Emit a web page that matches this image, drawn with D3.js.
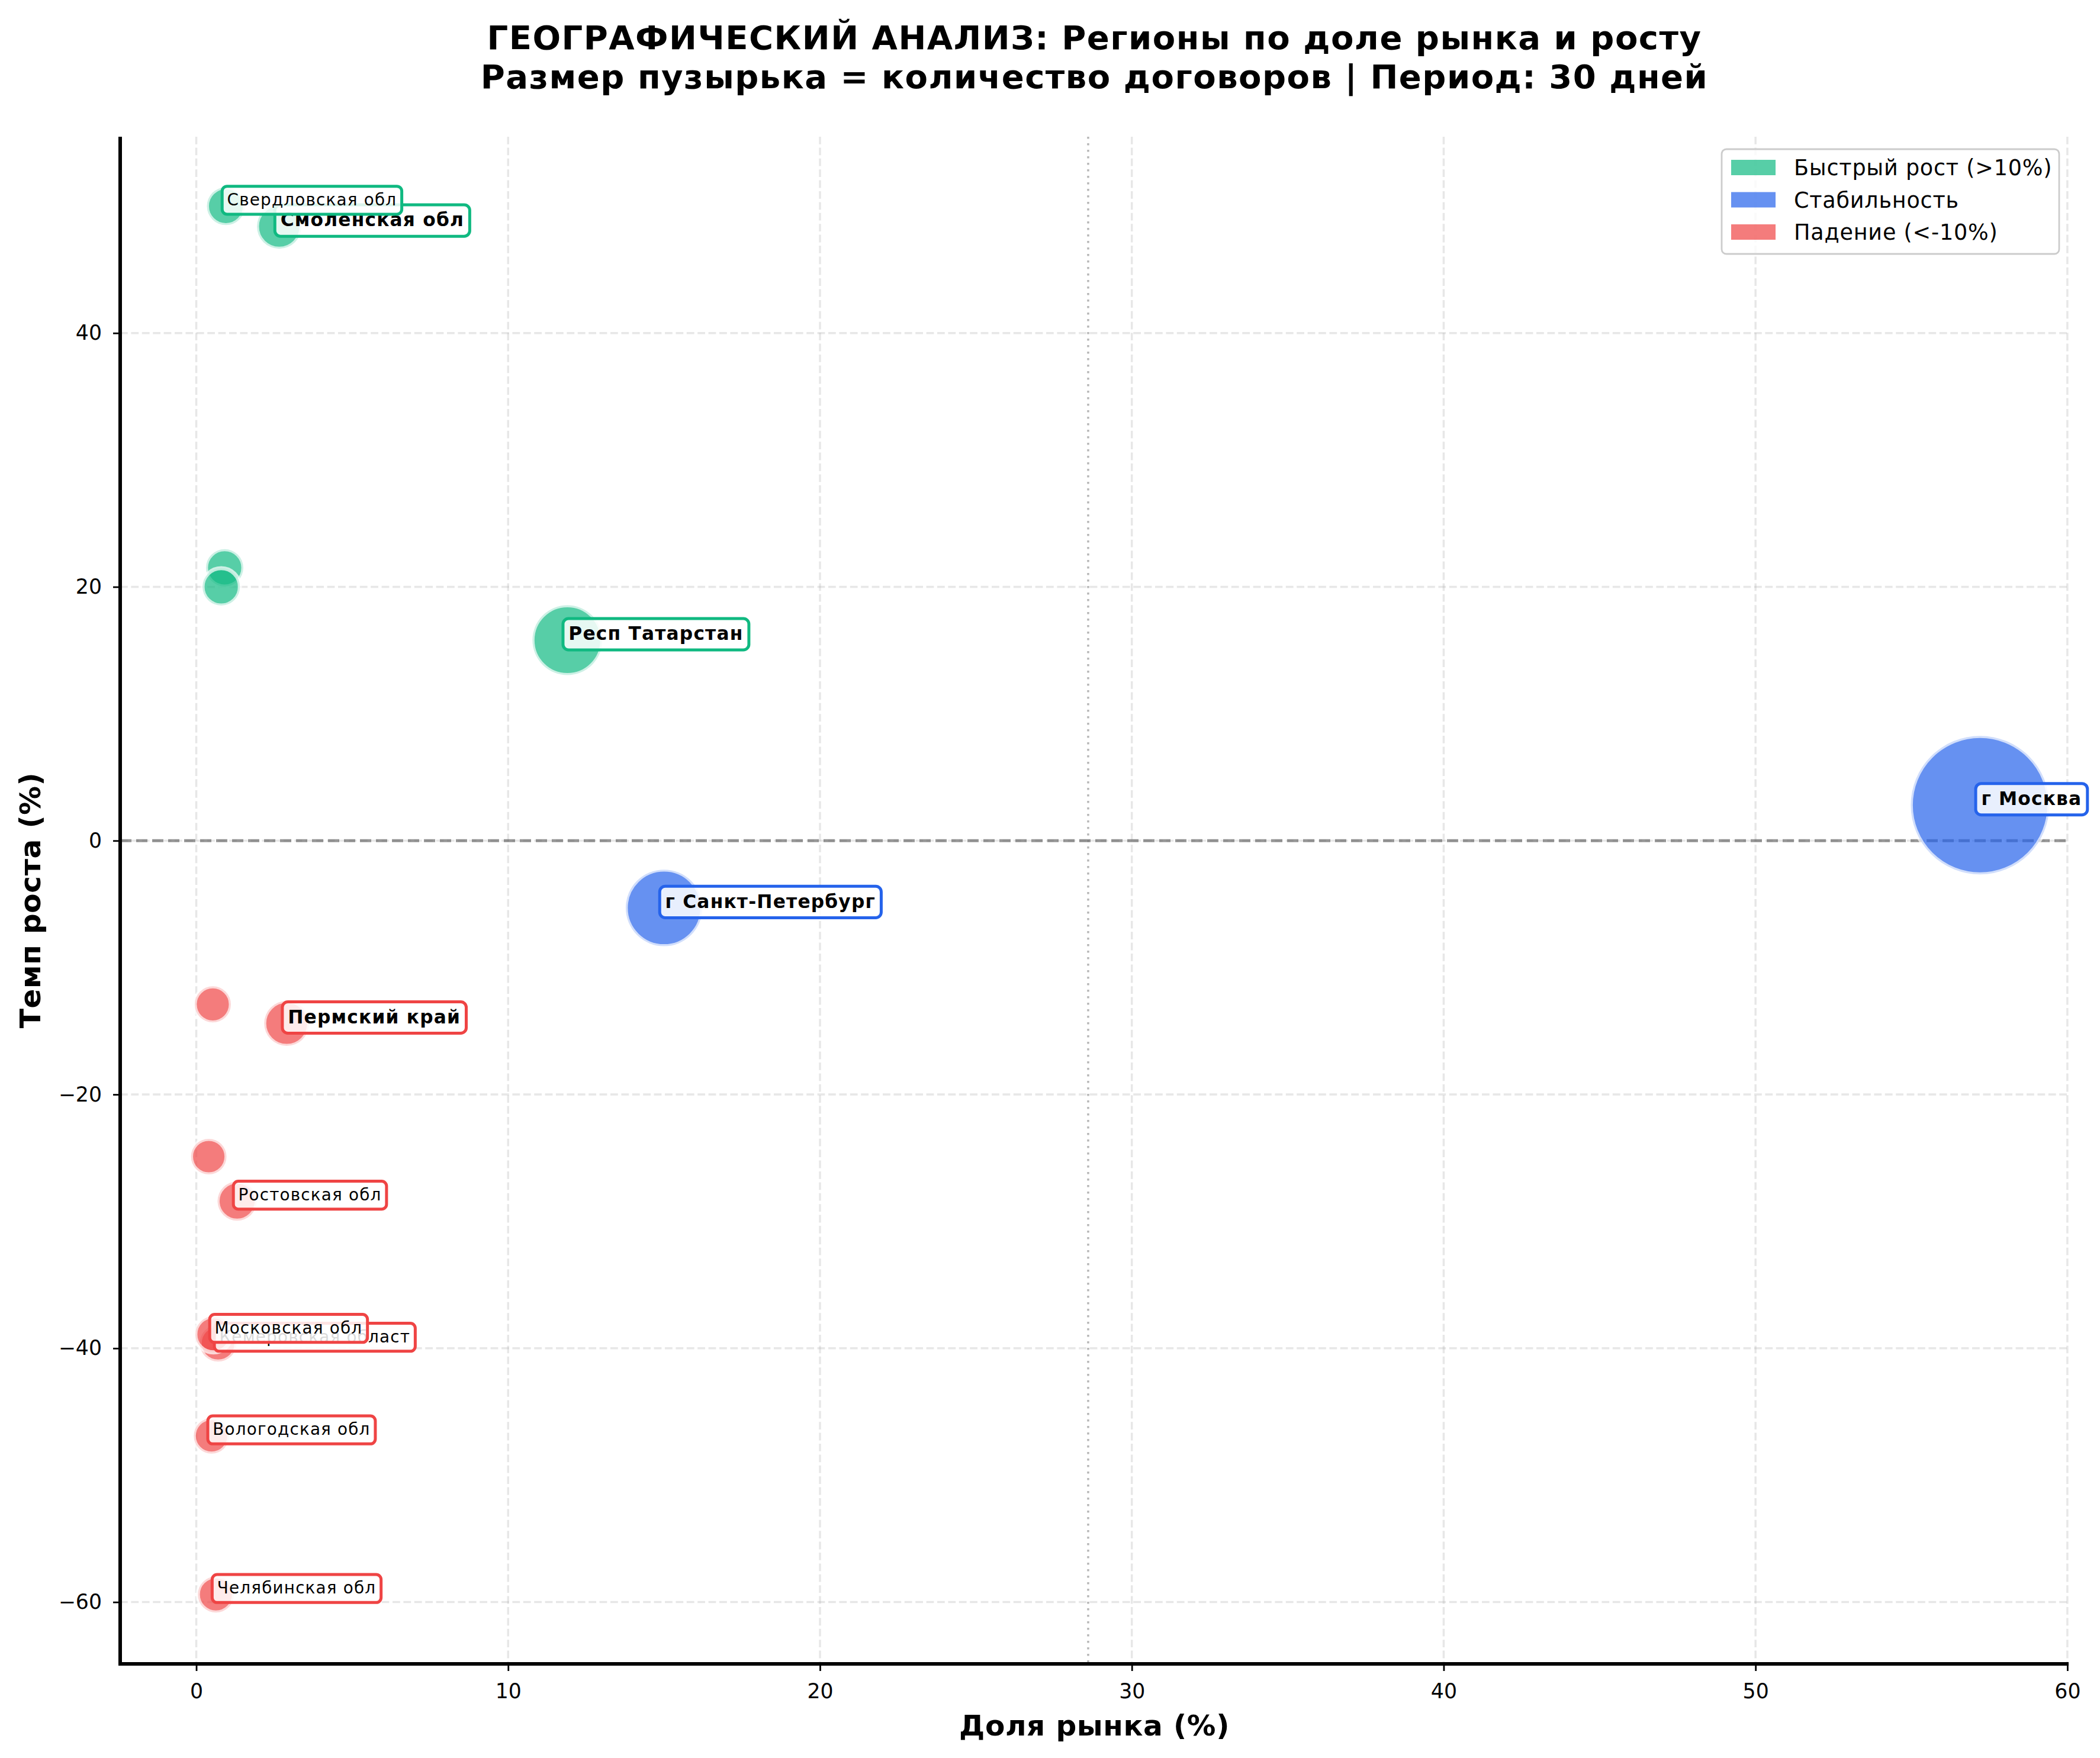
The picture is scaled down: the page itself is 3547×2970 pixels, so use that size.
<!DOCTYPE html>
<html>
<head>
<meta charset="utf-8">
<script src="https://cdn.jsdelivr.net/npm/d3@7"></script>
<style>
  body { margin: 0; background: #fff; }
  text { font-family: "DejaVu Sans", sans-serif; }
</style>
</head>
<body>
<div id="chart-area"></div>
<script>
// data (empty name = bubble without a label)
var regions = ["г Москва", "г Санкт-Петербург", "Респ Татарстан", "Пермский край", "Смоленская обл",
  "Ростовская обл", "Свердловская обл", "", "", "", "",
  "Кемеровская область", "Московская обл", "Вологодская обл", "Челябинская обл"];
var share = [57.2, 15.0, 11.9, 2.9, 2.66, 1.31, 0.95, 0.91, 0.80, 0.53, 0.40, 0.70, 0.55, 0.49, 0.63];
var growth = [2.8, -5.3, 15.8, -14.4, 48.4, -28.4, 50.0, 21.5, 20.0, -12.9, -24.9, -39.6, -38.9, -46.9, -59.4];
var contracts = [400, 105, 83, 20, 19, 9, 7, 6, 6, 4, 3, 5, 4, 3, 4];

var categories = ["Быстрый рост (>10%)", "Стабильность", "Падение (<-10%)"];
var categoryColors = ["#10b981", "#2563eb", "#ef4444"];

var xTicks = [0, 10, 20, 30, 40, 50, 60];
var yTicks = [-60, -40, -20, 0, 20, 40];

var titleLines = ["ГЕОГРАФИЧЕСКИЙ АНАЛИЗ: Регионы по доле рынка и росту",
  "Размер пузырька = количество договоров | Период: 30 дней"];

var W = 3547, H = 2970;
var plot = { left: 203, top: 231, right: 3494, bottom: 2811 };

var svg = d3.select("#chart-area")
  .append("svg")
  .attr("width", W)
  .attr("height", H)
  .style("background-color", "white");

function padded(ext) {
  var p = (ext[1] - ext[0]) * 0.05;
  return [ext[0] - p, ext[1] + p];
}

var x = d3.scaleLinear().domain(padded(d3.extent(share))).range([plot.left, plot.right]);
var y = d3.scaleLinear().domain(padded(d3.extent(growth))).range([plot.bottom, plot.top]);
var area = d3.scaleLinear().domain([0, d3.max(contracts)]).range([803, 13689]);

function category(g) { return g > 10 ? 0 : (g < -10 ? 2 : 1); }

// grid
svg.append("g").selectAll("line")
  .data(xTicks)
  .enter()
  .append("line")
  .attr("x1", d => x(d)).attr("x2", d => x(d))
  .attr("y1", plot.top).attr("y2", plot.bottom)
  .attr("stroke", "#b0b0b0").attr("stroke-opacity", 0.3)
  .attr("stroke-width", 3.5).attr("stroke-dasharray", "12.8,5.6");
svg.append("g").selectAll("line")
  .data(yTicks)
  .enter()
  .append("line")
  .attr("x1", plot.left).attr("x2", plot.right)
  .attr("y1", d => y(d)).attr("y2", d => y(d))
  .attr("stroke", "#b0b0b0").attr("stroke-opacity", 0.3)
  .attr("stroke-width", 3.5).attr("stroke-dasharray", "12.8,5.6");

// reference lines
svg.append("line")
  .attr("x1", plot.left).attr("x2", plot.right)
  .attr("y1", y(0)).attr("y2", y(0))
  .attr("stroke", "#606060").attr("stroke-opacity", 0.65)
  .attr("stroke-width", 5).attr("stroke-dasharray", "19,8");
svg.append("line")
  .attr("x1", x(d3.max(share) / 2)).attr("x2", x(d3.max(share) / 2))
  .attr("y1", plot.top).attr("y2", plot.bottom)
  .attr("stroke", "#707070").attr("stroke-opacity", 0.5)
  .attr("stroke-width", 3.5).attr("stroke-dasharray", "3.5,7.5");

// bubbles
var idx = d3.range(regions.length);
svg.append("g").selectAll("circle")
  .data(idx)
  .enter()
  .append("circle")
  .attr("cx", i => x(share[i]))
  .attr("cy", i => y(growth[i]))
  .attr("r", i => Math.sqrt(area(contracts[i])))
  .attr("fill", i => categoryColors[category(growth[i])])
  .attr("fill-opacity", 0.7)
  .attr("stroke", "white")
  .attr("stroke-opacity", 0.7)
  .attr("stroke-width", 6.9);

// labels
var top5 = new Set(idx.slice().sort((a, b) => share[b] - share[a]).slice(0, 5));
svg.append("g").selectAll("g")
  .data(idx.filter(i => regions[i] !== ""))
  .enter()
  .append("g")
  .each(function(i) {
    var grp = d3.select(this);
    var bold = top5.has(i);
    var fs = bold ? 31.25 : 27.8;
    var pad = 0.3 * fs;
    var tx = x(share[i]) + 2;
    var mid = y(growth[i]) - 10;
    var t = grp.append("text")
      .attr("x", tx)
      .attr("y", mid + 0.31 * fs)
      .attr("font-size", fs)
      .attr("font-weight", bold ? "bold" : "normal")
      .attr("letter-spacing", 1.2)
      .attr("fill", "black")
      .text(regions[i].slice(0, 18));
    var w = t.node().getComputedTextLength();
    var h = 1.1 * fs;
    grp.insert("rect", "text")
      .attr("x", tx - pad)
      .attr("y", mid - h / 2 - pad)
      .attr("width", w + 2 * pad)
      .attr("height", h + 2 * pad)
      .attr("rx", pad)
      .attr("fill", "white")
      .attr("fill-opacity", 0.85)
      .attr("stroke", categoryColors[category(growth[i])])
      .attr("stroke-width", 5);
  });

// axes
svg.append("g")
  .attr("transform", "translate(0," + plot.bottom + ")")
  .call(d3.axisBottom(x).tickValues(xTicks).tickSize(12).tickSizeOuter(0).tickPadding(21));
svg.append("g")
  .attr("transform", "translate(" + plot.left + ",0)")
  .call(d3.axisLeft(y).tickValues(yTicks).tickSize(12).tickSizeOuter(0).tickPadding(19));
svg.selectAll(".domain").remove();
svg.selectAll(".tick line").attr("stroke", "black").attr("stroke-width", 2.8);
svg.selectAll(".tick text")
  .attr("font-family", "DejaVu Sans")
  .attr("font-size", 34.7)
  .attr("fill", "black");

// spines
svg.append("line")
  .attr("x1", plot.left).attr("x2", plot.left)
  .attr("y1", plot.top).attr("y2", plot.bottom + 3)
  .attr("stroke", "black").attr("stroke-width", 6);
svg.append("line")
  .attr("x1", plot.left - 3).attr("x2", plot.right)
  .attr("y1", plot.bottom).attr("y2", plot.bottom)
  .attr("stroke", "black").attr("stroke-width", 6);

// axis labels
svg.append("text")
  .attr("x", (plot.left + plot.right) / 2)
  .attr("y", 2932)
  .attr("font-size", 48.6)
  .attr("font-weight", "bold")
  .attr("letter-spacing", 0.6)
  .attr("text-anchor", "middle")
  .text("Доля рынка (%)");
svg.append("text")
  .attr("transform", "translate(68," + (plot.top + plot.bottom) / 2 + ") rotate(-90)")
  .attr("font-size", 48.6)
  .attr("font-weight", "bold")
  .attr("letter-spacing", 0.6)
  .attr("text-anchor", "middle")
  .text("Темп роста (%)");

// title
svg.append("g").selectAll("text")
  .data(titleLines)
  .enter()
  .append("text")
  .attr("x", (plot.left + plot.right) / 2)
  .attr("y", (d, i) => 83 + i * 66)
  .attr("font-size", 56)
  .attr("font-weight", "bold")
  .attr("letter-spacing", 1.5)
  .attr("text-anchor", "middle")
  .text(d => d);

// legend
var legend = svg.append("g").attr("transform", "translate(2908,252)");
legend.append("rect")
  .attr("width", 570).attr("height", 177).attr("rx", 8)
  .attr("fill", "white").attr("fill-opacity", 0.8)
  .attr("stroke", "#cccccc").attr("stroke-width", 2.8);
var items = legend.selectAll("g.item")
  .data(categories)
  .enter()
  .append("g")
  .attr("transform", (d, i) => "translate(0," + (31 + i * 54.5) + ")");
items.append("rect")
  .attr("x", 16).attr("y", -13)
  .attr("width", 75).attr("height", 26)
  .attr("fill", (d, i) => categoryColors[i])
  .attr("fill-opacity", 0.7);
items.append("text")
  .attr("x", 122).attr("y", 13)
  .attr("font-size", 36.5)
  .attr("letter-spacing", 0.8)
  .text(d => d);
</script>
</body>
</html>
